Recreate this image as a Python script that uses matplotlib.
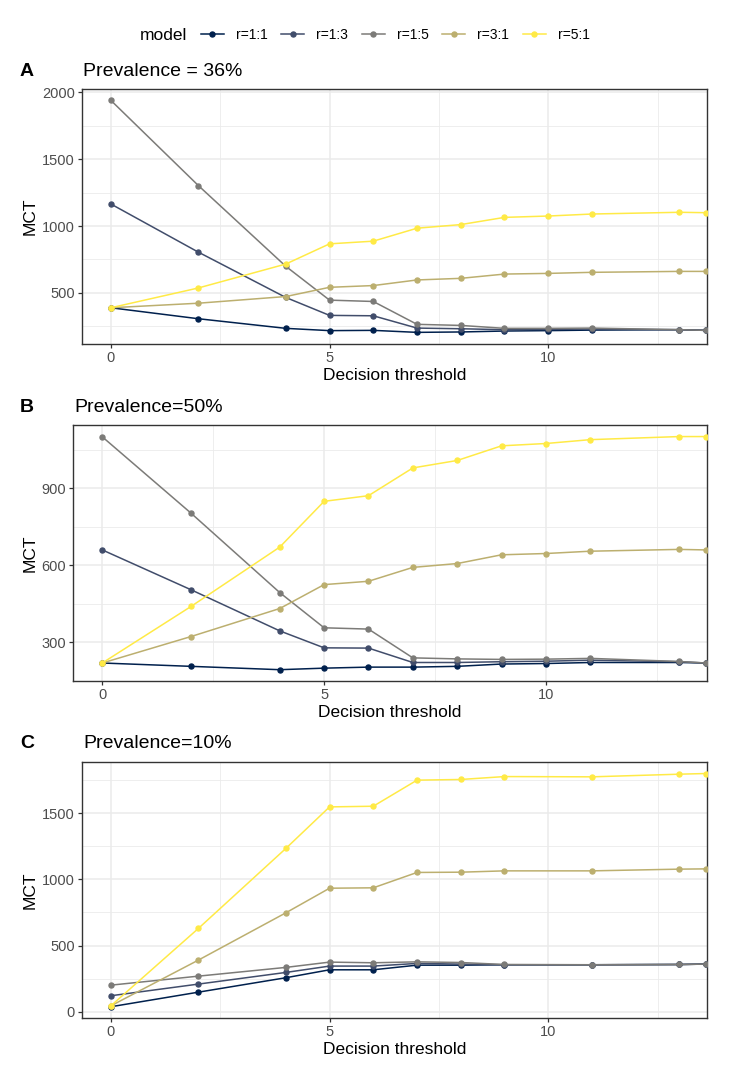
import matplotlib
matplotlib.use("Agg")
import matplotlib.pyplot as plt
from matplotlib.lines import Line2D
from matplotlib.ticker import MultipleLocator

plt.rcParams['font.family'] = ['Liberation Sans', 'DejaVu Sans']

models = ["r=1:1", "r=1:3", "r=1:5", "r=3:1", "r=5:1"]
colors = ["#00204D", "#414D6B", "#7C7B78", "#BCAF6F", "#FFEA46"]

# Panel A: Prevalence = 36%
x_a = [0, 2, 4, 5, 6, 7, 8, 9, 10, 11, 13, 13.6]
a_r11 = [389, 307, 235, 218, 220, 205, 208, 215, 218, 222, 225, 220]
a_r13 = [1165, 805, 466, 332, 329, 237, 232, 225, 227, 230, 225, 220]
a_r15 = [1940, 1303, 699, 446, 436, 265, 257, 235, 235, 237, 225, 220]
a_r31 = [389, 423, 473, 542, 555, 597, 609, 641, 646, 654, 661, 661]
a_r51 = [389, 537, 716, 867, 887, 984, 1011, 1065, 1075, 1090, 1103, 1100]

# Panel B: Prevalence = 50%
x_b = [0, 2, 4, 5, 6, 7, 8, 9, 10, 11, 13, 13.6]
b_r11 = [220, 207, 194, 200, 204, 204, 207, 216, 218, 222, 222, 220]
b_r13 = [660, 505, 345, 279, 278, 222, 222, 225, 227, 231, 225, 220]
b_r15 = [1100, 803, 494, 357, 352, 240, 236, 234, 235, 238, 226, 220]
b_r31 = [220, 323, 432, 525, 538, 592, 607, 641, 646, 655, 662, 660]
b_r51 = [220, 440, 671, 849, 871, 979, 1008, 1065, 1074, 1089, 1101, 1101]

# Panel C: Prevalence = 10%
x_c = [0, 2, 4, 5, 6, 7, 8, 9, 11, 13, 13.6]
c_r11 = [38, 148, 257, 317, 317, 352, 352, 355, 355, 357, 360]
c_r13 = [121, 209, 297, 345, 345, 365, 360, 355, 355, 357, 360]
c_r15 = [201, 269, 335, 375, 370, 377, 372, 357, 355, 357, 360]
c_r31 = [45, 390, 747, 933, 936, 1052, 1054, 1064, 1064, 1077, 1079]
c_r51 = [45, 629, 1233, 1547, 1552, 1749, 1754, 1776, 1774, 1794, 1799]

panels = [
    ("A", "Prevalence = 36%", x_a, [a_r11, a_r13, a_r15, a_r31, a_r51], (118, 2025), 500),
    ("B", "Prevalence=50%", x_b, [b_r11, b_r13, b_r15, b_r31, b_r51], (150, 1146), 300),
    ("C", "Prevalence=10%", x_c, [c_r11, c_r13, c_r15, c_r31, c_r51], (-47, 1886), 500),
]

W, H = 739, 1072
fig = plt.figure(figsize=(W / 100, H / 100), dpi=100)

# pixel boxes: left, right, top, bottom
boxes = [(82, 707, 89, 344), (73, 707, 425, 681), (82, 707, 762, 1018)]

grid_c = "#EBEBEB"
for (letter, title, xs, series, ylim, ystep), (l, r, t, b) in zip(panels, boxes):
    ax = fig.add_axes([l / W, 1 - b / H, (r - l) / W, (b - t) / H])
    for name, col, ys in zip(models, colors, series):
        ax.plot(xs, ys, color=col, lw=1.1, marker="o", ms=3.6, label=name, zorder=3)
    ax.set_xlim(-0.66, 13.63)
    ax.set_ylim(*ylim)
    ax.xaxis.set_major_locator(MultipleLocator(5))
    ax.xaxis.set_minor_locator(MultipleLocator(2.5))
    ax.yaxis.set_major_locator(MultipleLocator(ystep))
    ax.yaxis.set_minor_locator(MultipleLocator(ystep / 2))
    ax.grid(which="major", color=grid_c, lw=1.1, zorder=0)
    ax.grid(which="minor", color=grid_c, lw=0.6, zorder=0)
    ax.set_axisbelow(True)
    for s in ax.spines.values():
        s.set_color("#333333")
        s.set_linewidth(1.0)
    ax.tick_params(which="major", length=3, width=0.9, color="#333333",
                   labelsize=10.5, labelcolor="#4D4D4D", pad=2)
    ax.tick_params(which="minor", length=0)
    ax.set_xlabel("Decision threshold", fontsize=12.5, labelpad=2, color="black")
    ax.set_ylabel("MCT", fontsize=12.5, labelpad=3, color="black")
    fig.text(20 / W, 1 - (t - 18) / H, letter, fontsize=14, fontweight="bold",
             ha="left", va="center")
    fig.text((l + 1) / W, 1 - (t - 18) / H, title, fontsize=14, ha="left", va="center")

handles = [Line2D([0], [0], color=c, lw=1.1, marker="o", ms=3.6) for c in colors]
fig.text(140 / W, 1 - 35 / H, "model", fontsize=12.5, ha="left", va="center")
fig.legend(handles, models, loc="center left", bbox_to_anchor=(201 / W, 1 - 35 / H),
           ncol=5, frameon=False, fontsize=10, handlelength=1.65, handletextpad=0.85,
           columnspacing=1.0, borderpad=0, borderaxespad=0)

fig.savefig("out.png", dpi=100, facecolor="white")
